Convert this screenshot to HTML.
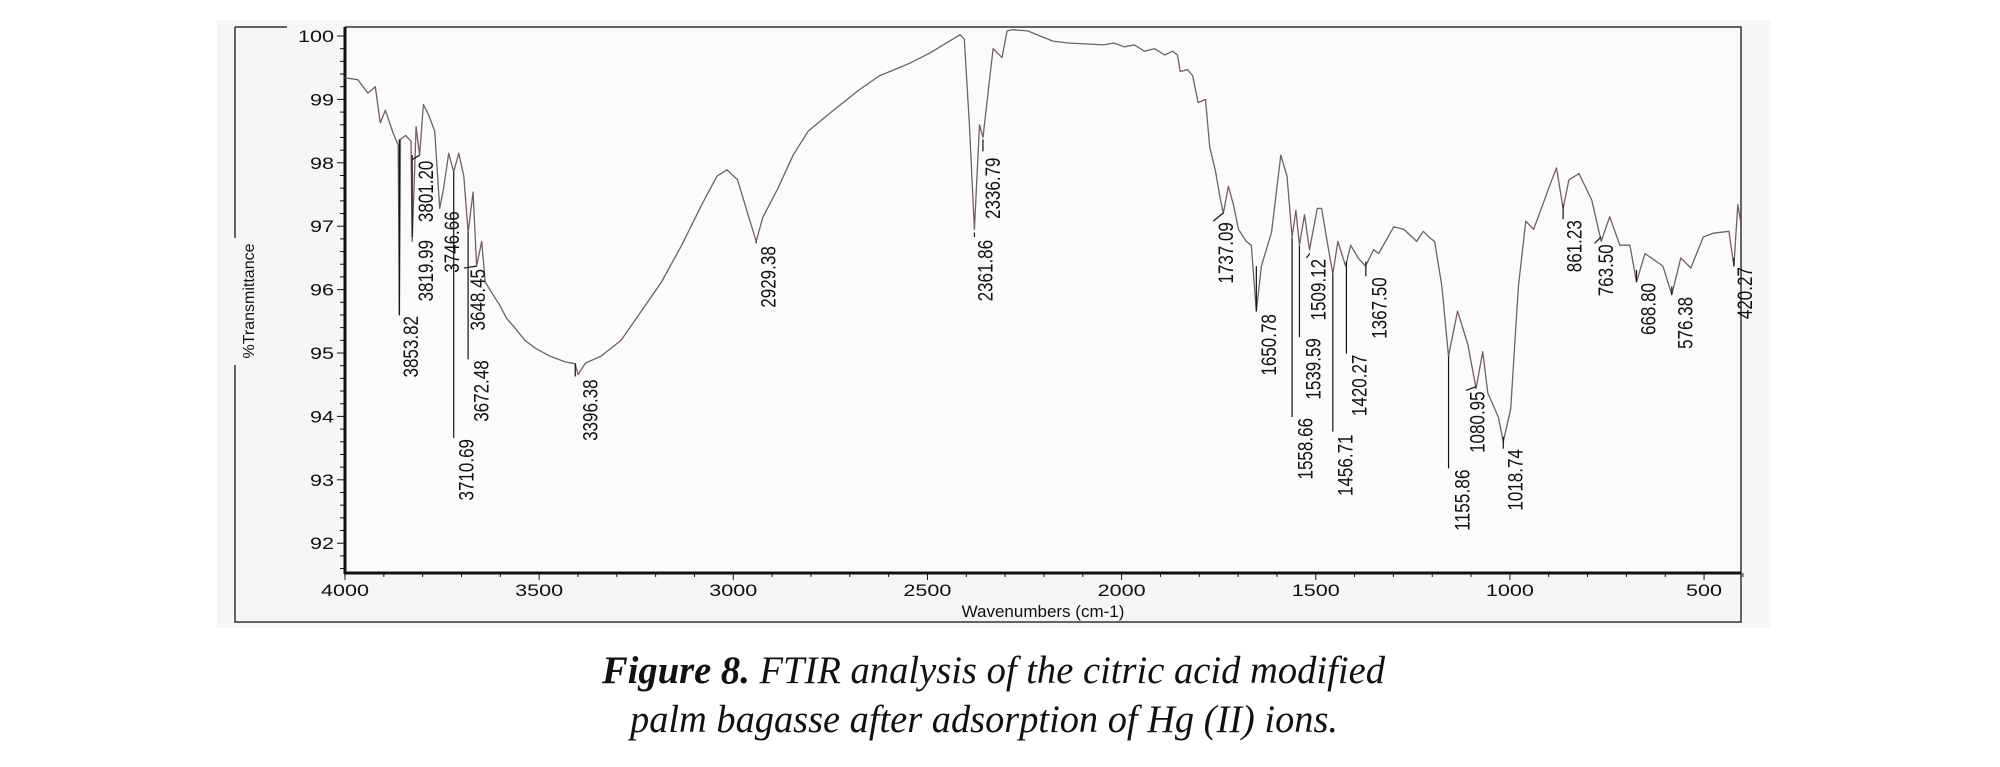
<!DOCTYPE html>
<html><head><meta charset="utf-8"><style>
html,body{margin:0;padding:0;background:#fff;width:2000px;height:767px;overflow:hidden}
svg{display:block}
</style></head><body>
<svg id="chart" width="2000" height="767" viewBox="0 0 2000 767" xmlns="http://www.w3.org/2000/svg" font-family="Liberation Sans, sans-serif">
<rect x="217" y="20" width="1553" height="608" fill="#f6f6f6"/>
<rect x="345" y="27" width="1396" height="546" fill="#fbfbfb"/>
<g id="frame" stroke="#333" stroke-width="1.5" fill="none">
<path d="M235 27 H287 M345 27 H1741 V622 H235 V365 M235 238 V27"/>
</g>
<text transform="translate(254,301) rotate(-90)" text-anchor="middle" font-size="16" fill="#111">%Transmittance</text>
<text x="1043" y="617" text-anchor="middle" font-size="17" fill="#111">Wavenumbers (cm-1)</text>
<g id="axes"></g>
<g id="series"></g>
<g id="labels" font-size="21" fill="#111"></g>
<g font-family="Liberation Serif, serif" font-style="italic" font-size="39" fill="#111">
<text x="602" y="683" textLength="783" lengthAdjust="spacingAndGlyphs"><tspan font-weight="bold">Figure 8.</tspan> FTIR analysis of the citric acid modified</text>
<text x="630" y="732" textLength="708" lengthAdjust="spacingAndGlyphs">palm bagasse after adsorption of Hg (II) ions.</text>
</g>
</svg>
<script>
const xTicks=[4000,3500,3000,2500,2000,1500,1000,500];
const yTicks=[100,99,98,97,96,95,94,93,92];
const wavenumbers=[4000,3967,3941,3922,3909,3896,3876,3863,3860,3857,3844,3830,3827,3817,3808,3798,3785,3769,3756,3746,3733,3720,3707,3694,3683,3670,3661,3648,3639,3622,3602,3583,3563,3537,3511,3472,3433,3407,3400,3381,3341,3289,3237,3185,3133,3081,3042,3016,2989,2963,2941,2924,2885,2846,2807,2742,2676,2624,2546,2494,2416,2405,2392,2379,2366,2357,2344,2331,2308,2295,2282,2242,2177,2138,2046,2020,1993,1967,1941,1915,1889,1869,1856,1849,1830,1817,1803,1784,1773,1758,1747,1738,1725,1712,1699,1679,1666,1653,1640,1614,1590,1574,1561,1551,1542,1529,1516,1496,1485,1469,1456,1443,1423,1410,1391,1372,1351,1338,1299,1273,1240,1223,1207,1194,1175,1158,1135,1109,1087,1070,1057,1030,1017,998,978,959,939,919,900,880,863,848,822,789,765,743,717,691,674,652,606,583,560,534,502,476,436,423,413,406];
const transmittance=[99.34,99.31,99.1,99.2,98.63,98.83,98.47,98.28,95.6,98.37,98.43,98.34,96.76,98.57,98.12,98.92,98.76,98.5,97.28,97.6,98.15,97.86,98.15,97.79,96.9,97.54,96.37,96.76,96.12,95.95,95.76,95.54,95.4,95.2,95.08,94.95,94.86,94.83,94.66,94.84,94.95,95.2,95.66,96.12,96.7,97.34,97.79,97.89,97.73,97.2,96.76,97.14,97.6,98.12,98.5,98.83,99.15,99.37,99.57,99.73,100.02,99.95,98.6,96.95,98.6,98.4,99.1,99.8,99.66,100.08,100.1,100.08,99.92,99.89,99.86,99.89,99.83,99.86,99.76,99.8,99.7,99.76,99.7,99.44,99.47,99.37,98.95,99.0,98.25,97.86,97.47,97.2,97.63,97.34,96.95,96.76,96.7,95.66,96.37,96.9,98.12,97.79,96.83,97.25,96.7,97.18,96.63,97.28,97.28,96.7,96.25,96.76,96.37,96.7,96.5,96.37,96.63,96.57,96.99,96.95,96.76,96.92,96.82,96.76,96.05,94.95,95.66,95.15,94.44,95.02,94.37,93.99,93.6,94.12,96.05,97.08,96.95,97.28,97.6,97.92,97.28,97.73,97.83,97.41,96.76,97.15,96.7,96.7,96.12,96.57,96.37,95.92,96.5,96.34,96.83,96.89,96.92,96.37,97.34,97.08];
const peakLabels=["3853.82","3819.99","3801.20","3746.66","3710.69","3672.48","3648.45","3396.38","2929.38","2361.86","2336.79","1737.09","1650.78","1558.66","1539.59","1509.12","1456.71","1420.27","1367.50","1155.86","1080.95","1018.74","861.23","763.50","668.80","576.38","420.27"];
const leaderStartWn=[3860,3827,3808,null,3720,3683,3661,3407,2941,2379,2357,1738,1653,1561,1542,1515,1456,1421,1371,1158,1087,1017,863,765,674,583,423];
const leaderStartT=[98.37,98.12,98.12,null,97.86,96.9,96.37,94.83,96.76,96.9,98.37,97.21,96.37,96.82,96.69,96.57,96.25,96.44,96.44,94.95,94.47,93.68,97.34,96.83,96.31,96.05,96.5];
const leaderEndWn=[3860,3827,3827,null,3720,3683,3694,3407,2941,2379,2357,1764,1653,1561,1542,1524,1456,1421,1371,1158,1113,1017,863,782,674,583,423];
const leaderEndT=[95.6,96.83,98.05,null,93.66,94.9,96.34,94.63,96.73,96.83,98.18,97.08,95.66,93.99,95.25,96.5,93.76,94.99,96.21,93.18,94.41,93.49,97.11,96.73,96.12,95.92,96.37];
const labelWn=[3830,3791,3791,3724,3687,3648,3657,3368,2909,2350,2331,1731,1620,1526,1506,1493,1424,1387,1336,1122,1083,985,834,752,643,548,394];
const labelTopT=[95.6,96.8,98.05,97.25,93.66,94.9,96.34,94.6,96.7,96.8,98.1,97.08,95.63,93.99,95.25,96.5,93.73,94.99,96.21,93.18,94.41,93.5,97.11,96.73,96.12,95.9,96.37];

const NS='http://www.w3.org/2000/svg';
const X0=345,XK=0.3883,Y0=36,YK=63.4;
function xs(w){return X0+(4000-w)*XK;}
function ys(t){return Y0+(100-t)*YK;}
function mk(tag,attrs,parent){const e=document.createElementNS(NS,tag);for(const k in attrs)e.setAttribute(k,attrs[k]);parent.appendChild(e);return e;}
function natW(s,fs){let w=0;for(const c of s)w+=(c==='.'?0.278:0.556);return w*fs;}
const axes=document.getElementById('axes');
const L=mk('line',{x1:345,y1:27,x2:345,y2:574,stroke:'#111','stroke-width':3},axes);


const B=mk('line',{x1:344,y1:573,x2:1741,y2:573,stroke:'#111','stroke-width':3},axes);


for(let t=91.6;t<=100.01;t+=0.2){
  const major=Math.abs(t-Math.round(t))<0.01;
  const tk=mk('line',{x1:345-(major?8:5),x2:345,y1:ys(t),y2:ys(t),stroke:'#111','stroke-width':1},axes);
  
  
}
yTicks.forEach(v=>{
  const s=String(v);
  const t=mk('text',{x:334,y:ys(v)+6,'text-anchor':'end','font-size':17,fill:'#111',textLength:(natW(s,17)*1.27).toFixed(1),lengthAdjust:'spacingAndGlyphs'},axes);
  t.textContent=s;
  
  
});
for(let w=4000;w>=400;w-=100){
  const major=w%500===0;
  const tk=mk('line',{x1:xs(w),x2:xs(w),y1:573,y2:573+(major?7:4),stroke:'#111','stroke-width':1},axes);
  
  
}
xTicks.forEach(v=>{
  const s=String(v);
  const t=mk('text',{x:xs(v),y:596,'text-anchor':'middle','font-size':17,fill:'#111',textLength:(natW(s,17)*1.27).toFixed(1),lengthAdjust:'spacingAndGlyphs'},axes);
  t.textContent=s;
  
  
});
const series=document.getElementById('series');
let d='';
wavenumbers.forEach((w,i)=>{d+=(i?'L':'M')+xs(w).toFixed(1)+' '+ys(transmittance[i]).toFixed(1);});
const p=mk('path',{d:d,fill:'none',stroke:'#6e6262','stroke-width':1.3,'stroke-linejoin':'round'},series);


const lab=document.getElementById('labels');
peakLabels.forEach((s,i)=>{
  if(leaderStartWn[i]!==null){
    const ln=mk('line',{x1:xs(leaderStartWn[i]),y1:ys(leaderStartT[i]),x2:xs(leaderEndWn[i]),y2:ys(leaderEndT[i]),stroke:'#111','stroke-width':1.2},lab);
    
    
  }
  const t=mk('text',{transform:'translate('+xs(labelWn[i]).toFixed(1)+','+(ys(labelTopT[i])+1).toFixed(1)+') rotate(-90)','text-anchor':'end','dy':'7',textLength:(natW(s,21)*0.81).toFixed(1),lengthAdjust:'spacingAndGlyphs'},lab);
  t.textContent=s;
  
  
});
</script>
</body></html>
